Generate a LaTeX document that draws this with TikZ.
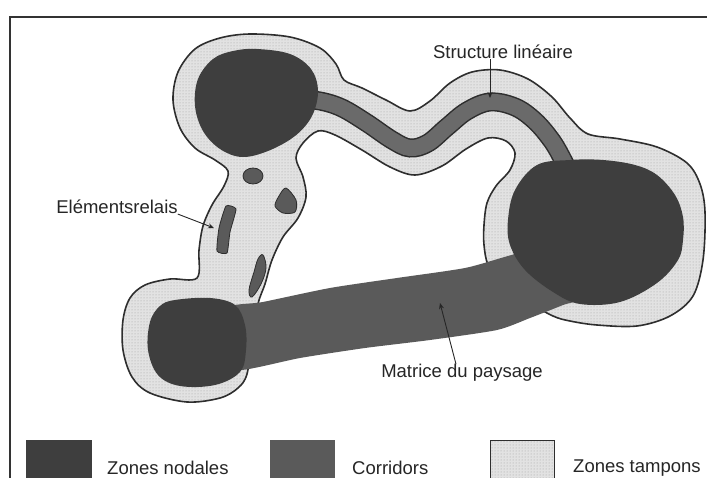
\documentclass[tikz,border=0pt]{standalone}
\usepackage{fontspec}
\setmainfont{Liberation Sans}
\usetikzlibrary{arrows.meta,patterns}
\definecolor{nodalc}{HTML}{3E3E3E}
\definecolor{corrc}{HTML}{6A6A6A}
\definecolor{matc}{HTML}{5A5A5A}
\definecolor{bufc}{HTML}{E2E2E2}
\definecolor{edgec}{HTML}{2E2E2E}
\begin{document}
\begin{tikzpicture}[x=1pt,y=-1pt,
  lbl/.style={font=\fontsize{18.5}{22}\selectfont, text=black!85, inner sep=0pt},
  bufferzone/.style={draw=edgec, line width=1.6, preaction={fill=bufc}, pattern=dots, pattern color=gray!75},
  nodalzone/.style={fill=nodalc},
  relay/.style={fill=matc, draw=edgec, line width=0.8},
  pointer/.style={draw=black!85, line width=0.9},
  tip/.style={-{Stealth[length=6,width=5]}}]
\useasboundingbox (0,0) rectangle (707,478);
\fill[white] (0,0) rectangle (707,478);
\clip (0,0) rectangle (707,478);

% frame
\draw[line width=1.2, black!80] (10,478) -- (10,17) -- (707,17);

% buffer zones (one union shape)
\draw[bufferzone] plot[smooth cycle, tension=0.55] coordinates {
 (250,34) (290,37) (320,48) (336,64) (344,80) (362,88) (386,100) (410,111)
 (430,101) (450,83) (472,72) (500,70) (528,79) (552,97) (570,118) (588,134)
 (620,139) (657,147) (687,163) (700,184) (705,212) (703,260) (693,296)
 (670,316) (637,326) (597,325) (570,321) (553,316) (528,302) (500,283)
 (488,265) (484,245) (484,225) (487,203) (496,186) (510,170) (515,153)
 (506,141) (488,138) (466,149) (442,166) (415,175) (390,167) (362,150)
 (335,135) (318,131) (303,143) (296,158) (303,177) (306,197) (298,218)
 (283,237) (272,260) (265,284) (258,304) (252,340) (247,374) (238,388)
 (220,398) (187,402) (150,393) (132,377) (123,350) (123,320) (130,298)
 (145,285) (170,279) (197,278) (199,250) (203,226) (212,205) (224,186)
 (228,171) (215,160) (195,148) (180,128) (173,100) (178,72) (195,49) (220,38)};

% linear structure (wavy corridor)
\draw[edgec, line width=19, line cap=round] plot[smooth, tension=0.6] coordinates {
 (300,100) (320,101) (342,108) (367,123) (392,140) (410,148) (428,143)
 (447,127) (467,111) (490,102) (515,107) (535,121) (552,141) (563,160) (570,175)};
\draw[corrc, line width=16, line cap=round] plot[smooth, tension=0.6] coordinates {
 (300,100) (320,101) (342,108) (367,123) (392,140) (410,148) (428,143)
 (447,127) (467,111) (490,102) (515,107) (535,121) (552,141) (563,160) (570,175)};

% landscape matrix corridor
\fill[matc] plot[smooth cycle, tension=0.4] coordinates {
 (225,309) (263,302) (330,288) (397,278) (465,268) (508,256) (540,248)
 (570,262) (578,298) (563,305) (530,318) (497,330) (430,340) (365,348)
 (300,358) (240,370) (222,355)};

% nodal zones
\fill[nodalzone] plot[smooth cycle, tension=0.6] coordinates {
 (257,49) (290,54) (311,69) (318,91) (312,116) (295,136) (268,151)
 (242,157) (220,149) (203,131) (195,106) (198,79) (213,59) (233,51)};
\fill[nodalzone] plot[smooth cycle, tension=0.6] coordinates {
 (537,165) (570,160) (603,160) (635,165) (657,175) (675,195) (683,217)
 (683,240) (678,260) (657,283) (620,302) (580,304) (553,292) (525,270)
 (510,245) (508,220) (515,190)};
\fill[nodalzone] plot[smooth cycle, tension=0.6] coordinates {
 (175,300) (210,298) (235,305) (245,325) (246,350) (240,372) (215,385)
 (180,386) (158,375) (148,350) (150,322) (160,306)};

% relay elements
\draw[relay] (253,176) ellipse [x radius=10, y radius=8];
\draw[relay] plot[smooth cycle, tension=0.5] coordinates {
 (286,188) (296,200) (295,212) (283,213) (275,206) (279,196)};
\draw[relay] plot[smooth cycle, tension=0.3] coordinates {
 (226,206) (236,209) (230,232) (227,253) (217,251) (219,228)};
\draw[relay] plot[smooth cycle, tension=0.6] coordinates {
 (263,255) (266,268) (261,284) (252,297) (249,290) (254,272) (258,259)};

% labels
\node[lbl] (sl) at (503,52) {Structure linéaire};
\coordinate (slT) at (490,98);
\draw[pointer, tip] (sl.south -| slT) -- (slT);

\node[lbl] (er) at (117,207) {Elémentsrelais};
\coordinate (erT) at (214,228);
\draw[pointer, tip] (er.south east) -- (erT);

\node[lbl] (md) at (462,373) {Matrice du paysage};
\coordinate (mdT) at (440,303);
\draw[pointer, tip] ([xshift=-6]md.north) -- (mdT);

% legend
\node[fill=nodalc, minimum width=66, minimum height=40, inner sep=0pt, anchor=north west] (k1) at (26,440) {};
\node[lbl, anchor=west] (t1) at (107,468) {Zones nodales};
\node[fill=matc, minimum width=65, minimum height=40, inner sep=0pt, anchor=north west] (k2) at (270,440) {};
\node[lbl, anchor=west] (t2) at (352,468) {Corridors};
\node[bufferzone, line width=1, minimum width=64, minimum height=40, inner sep=0pt, anchor=north west] (k3) at (490,440) {};
\node[lbl, anchor=west] (t3) at (573,468) {Zones tampons};
\end{tikzpicture}
\end{document}
